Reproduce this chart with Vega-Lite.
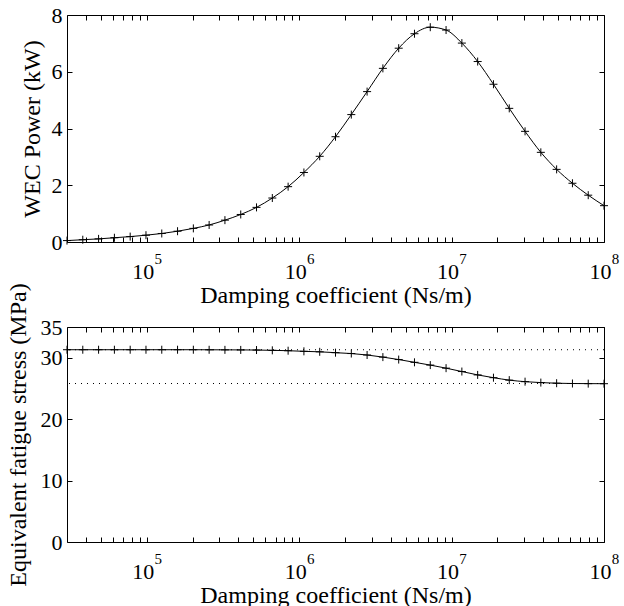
{
  "$schema": "https://vega.github.io/schema/vega-lite/v6.json",
  "autosize": {"type": "pad"},
  "padding": {"left": 5, "top": 3, "right": 0, "bottom": 0},
  "background": "white",
  "datasets": {
    "power": [
      {"c": 30000, "v": 0.05}, {"c": 38080, "v": 0.08}, {"c": 48340, "v": 0.11}, {"c": 61380, "v": 0.15},
      {"c": 77920, "v": 0.19}, {"c": 98900, "v": 0.24}, {"c": 125550, "v": 0.30}, {"c": 159370, "v": 0.38},
      {"c": 202300, "v": 0.48}, {"c": 256800, "v": 0.60}, {"c": 326000, "v": 0.77}, {"c": 413900, "v": 0.97},
      {"c": 525400, "v": 1.22}, {"c": 667000, "v": 1.55}, {"c": 846600, "v": 1.95}, {"c": 1074900, "v": 2.45},
      {"c": 1364600, "v": 3.02}, {"c": 1732200, "v": 3.71}, {"c": 2199000, "v": 4.49}, {"c": 2791600, "v": 5.30},
      {"c": 3543500, "v": 6.12}, {"c": 4498800, "v": 6.83}, {"c": 5711000, "v": 7.34}, {"c": 7249600, "v": 7.57},
      {"c": 9202800, "v": 7.47}, {"c": 11682000, "v": 7.01}, {"c": 14833000, "v": 6.36}, {"c": 18830000, "v": 5.56},
      {"c": 23903000, "v": 4.71}, {"c": 30342000, "v": 3.90}, {"c": 38516000, "v": 3.16}, {"c": 48894000, "v": 2.56},
      {"c": 62079000, "v": 2.07}, {"c": 78804000, "v": 1.65}, {"c": 100000000, "v": 1.28}
    ],
    "stress": [
      {"c": 30000, "v": 31.3}, {"c": 38080, "v": 31.3}, {"c": 48340, "v": 31.3}, {"c": 61380, "v": 31.3},
      {"c": 77920, "v": 31.3}, {"c": 98900, "v": 31.3}, {"c": 125550, "v": 31.3}, {"c": 159370, "v": 31.3},
      {"c": 202300, "v": 31.3}, {"c": 256800, "v": 31.29}, {"c": 326000, "v": 31.28}, {"c": 413900, "v": 31.27},
      {"c": 525400, "v": 31.25}, {"c": 667000, "v": 31.2}, {"c": 846600, "v": 31.14}, {"c": 1074900, "v": 31.04},
      {"c": 1364600, "v": 30.96}, {"c": 1732200, "v": 30.82}, {"c": 2199000, "v": 30.68}, {"c": 2791600, "v": 30.44},
      {"c": 3543500, "v": 30.1}, {"c": 4498800, "v": 29.7}, {"c": 5711000, "v": 29.25}, {"c": 7249600, "v": 28.8},
      {"c": 9202800, "v": 28.3}, {"c": 11682000, "v": 27.75}, {"c": 14833000, "v": 27.2}, {"c": 18830000, "v": 26.75},
      {"c": 23903000, "v": 26.35}, {"c": 30342000, "v": 26.1}, {"c": 38516000, "v": 25.95}, {"c": 48894000, "v": 25.85},
      {"c": 62079000, "v": 25.8}, {"c": 78804000, "v": 25.78}, {"c": 100000000, "v": 25.77}
    ],
    "refs": [{"r": 31.3}, {"r": 25.8}]
  },
  "config": {
    "font": "Liberation Serif, Times New Roman, DejaVu Serif, serif",
    "view": {"stroke": "black", "strokeWidth": 1},
    "axis": {
      "domain": false, "grid": false, "tickColor": "black", "tickSize": -5, "tickWidth": 1,
      "labelColor": "black", "titleColor": "black",
      "labelFont": "Liberation Serif, Times New Roman, DejaVu Serif, serif",
      "titleFont": "Liberation Serif, Times New Roman, DejaVu Serif, serif",
      "labelFontSize": 22, "titleFontSize": 24, "titleFontWeight": "normal",
      "labelFlush": false, "labelOverlap": false, "labelBound": false
    }
  },
  "bounds": "flush",
  "spacing": 85,
  "vconcat": [
    {
      "width": 537, "height": 227,
      "resolve": {"axis": {"x": "independent", "y": "independent"}},
      "layer": [
        {
          "data": {"name": "power"},
          "mark": {"type": "line", "color": "black", "strokeWidth": 1, "interpolate": "monotone"},
          "encoding": {
            "x": {"field": "c", "type": "quantitative", "scale": {"type": "log", "domain": [30000, 100000000], "nice": false},
              "axis": {"orient": "bottom", "values": [40000,50000,60000,70000,80000,90000,100000,200000,300000,400000,500000,600000,700000,800000,900000,1000000,2000000,3000000,4000000,5000000,6000000,7000000,8000000,9000000,10000000,20000000,30000000,40000000,50000000,60000000,70000000,80000000,90000000,100000000],
                "labelExpr": "abs(log(datum.value)/LN10 - round(log(datum.value)/LN10)) < 0.001 ? '10' : ''",
                "labelBaseline": "alphabetic", "labelPadding": 41, "labelOffset": -4,
                "title": "Damping coefficient (Ns/m)", "titleBaseline": "alphabetic", "titleY": 60}},
            "y": {"field": "v", "type": "quantitative", "scale": {"domain": [0, 8], "nice": false},
              "axis": {"orient": "left", "values": [0,2,4,6,8], "labelPadding": 10,
                "title": "WEC Power (kW)", "titleBaseline": "alphabetic", "titleX": -28}}
          }
        },
        {
          "data": {"name": "power"},
          "mark": {"type": "point", "shape": "M-1,0H1M0,-1V1", "filled": false, "stroke": "black", "strokeWidth": 1, "size": 64, "opacity": 1},
          "encoding": {
            "x": {"field": "c", "type": "quantitative", "scale": {"type": "log", "domain": [30000, 100000000], "nice": false},
              "axis": {"orient": "top", "values": [40000,50000,60000,70000,80000,90000,100000,200000,300000,400000,500000,600000,700000,800000,900000,1000000,2000000,3000000,4000000,5000000,6000000,7000000,8000000,9000000,10000000,20000000,30000000,40000000,50000000,60000000,70000000,80000000,90000000,100000000],
                "labels": false, "title": null}},
            "y": {"field": "v", "type": "quantitative", "scale": {"domain": [0, 8], "nice": false},
              "axis": {"orient": "right", "values": [0,2,4,6,8], "labels": false, "title": null}}
          }
        },
        {
          "data": {"name": "power"},
          "mark": {"type": "point", "opacity": 0},
          "encoding": {
            "x": {"field": "c", "type": "quantitative", "scale": {"type": "log", "domain": [30000, 100000000], "nice": false},
              "axis": {"orient": "bottom", "values": [100000,1000000,10000000,100000000], "ticks": false,
                "labelExpr": "'' + round(log(datum.value)/LN10)", "labelFontSize": 15,
                "labelBaseline": "alphabetic", "labelPadding": 21, "labelOffset": 11, "title": null}},
            "y": {"field": "v", "type": "quantitative", "axis": null}
          }
        }
      ]
    },
    {
      "width": 537, "height": 215,
      "resolve": {"axis": {"x": "independent", "y": "independent"}},
      "layer": [
        {
          "data": {"name": "refs"},
          "mark": {"type": "rule", "color": "black", "strokeWidth": 1, "strokeDash": [1, 5]},
          "encoding": {
            "y": {"field": "r", "type": "quantitative", "scale": {"domain": [0, 35], "nice": false}, "axis": null}
          }
        },
        {
          "data": {"name": "stress"},
          "mark": {"type": "line", "color": "black", "strokeWidth": 1, "interpolate": "monotone"},
          "encoding": {
            "x": {"field": "c", "type": "quantitative", "scale": {"type": "log", "domain": [30000, 100000000], "nice": false},
              "axis": {"orient": "bottom", "values": [40000,50000,60000,70000,80000,90000,100000,200000,300000,400000,500000,600000,700000,800000,900000,1000000,2000000,3000000,4000000,5000000,6000000,7000000,8000000,9000000,10000000,20000000,30000000,40000000,50000000,60000000,70000000,80000000,90000000,100000000],
                "labelExpr": "abs(log(datum.value)/LN10 - round(log(datum.value)/LN10)) < 0.001 ? '10' : ''",
                "labelBaseline": "alphabetic", "labelPadding": 41, "labelOffset": -4,
                "title": "Damping coefficient (Ns/m)", "titleBaseline": "alphabetic", "titleY": 60}},
            "y": {"field": "v", "type": "quantitative", "scale": {"domain": [0, 35], "nice": false},
              "axis": {"orient": "left", "values": [0,10,20,30,35], "labelPadding": 10,
                "title": "Equivalent fatigue stress (MPa)", "titleBaseline": "alphabetic", "titleX": -42}}
          }
        },
        {
          "data": {"name": "stress"},
          "mark": {"type": "point", "shape": "M-1,0H1M0,-1V1", "filled": false, "stroke": "black", "strokeWidth": 1, "size": 64, "opacity": 1},
          "encoding": {
            "x": {"field": "c", "type": "quantitative", "scale": {"type": "log", "domain": [30000, 100000000], "nice": false},
              "axis": {"orient": "top", "values": [40000,50000,60000,70000,80000,90000,100000,200000,300000,400000,500000,600000,700000,800000,900000,1000000,2000000,3000000,4000000,5000000,6000000,7000000,8000000,9000000,10000000,20000000,30000000,40000000,50000000,60000000,70000000,80000000,90000000,100000000],
                "labels": false, "title": null}},
            "y": {"field": "v", "type": "quantitative", "scale": {"domain": [0, 35], "nice": false},
              "axis": {"orient": "right", "values": [0,10,20,30,35], "labels": false, "title": null}}
          }
        },
        {
          "data": {"name": "stress"},
          "mark": {"type": "point", "opacity": 0},
          "encoding": {
            "x": {"field": "c", "type": "quantitative", "scale": {"type": "log", "domain": [30000, 100000000], "nice": false},
              "axis": {"orient": "bottom", "values": [100000,1000000,10000000,100000000], "ticks": false,
                "labelExpr": "'' + round(log(datum.value)/LN10)", "labelFontSize": 15,
                "labelBaseline": "alphabetic", "labelPadding": 21, "labelOffset": 11, "title": null}},
            "y": {"field": "v", "type": "quantitative", "axis": null}
          }
        }
      ]
    }
  ]
}
